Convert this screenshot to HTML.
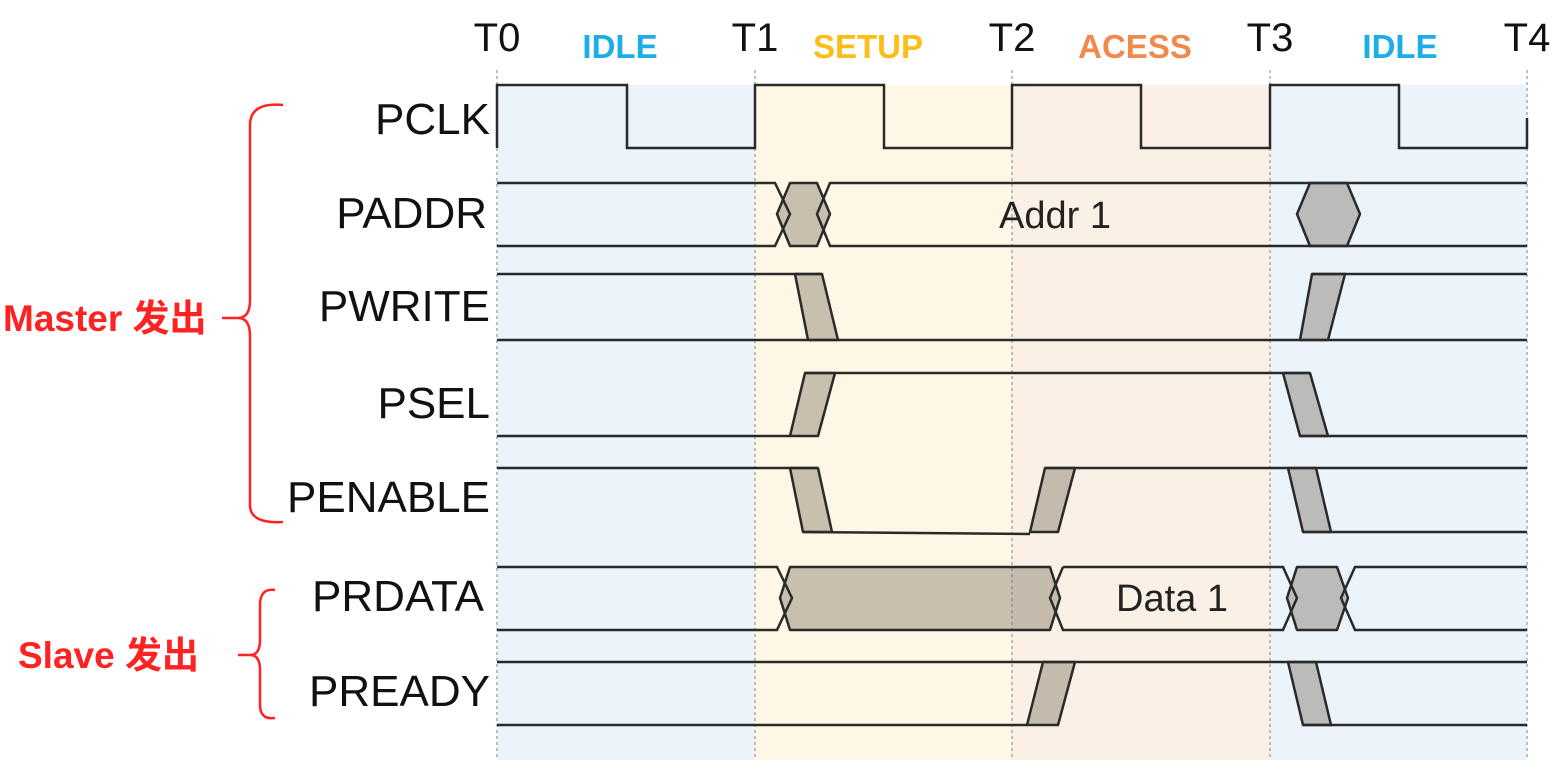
<!DOCTYPE html>
<html><head><meta charset="utf-8"><style>
body{margin:0;background:#fff;width:1555px;height:774px;overflow:hidden}
text{font-family:"Liberation Sans","Noto Sans CJK SC",sans-serif}
</style></head><body>
<svg width="1555" height="774" viewBox="0 0 1555 774" xmlns="http://www.w3.org/2000/svg">
<rect x="497" y="85" width="258" height="675" fill="#ebf3fb"/>
<rect x="755" y="85" width="257" height="675" fill="#fff7e5"/>
<rect x="1012" y="85" width="258" height="675" fill="#fbf0e6"/>
<rect x="1270" y="85" width="257" height="675" fill="#ebf3fb"/>
<g stroke="#aaa" stroke-width="1.5" stroke-dasharray="3,3">
<line x1="497" y1="70" x2="497" y2="760"/><line x1="755" y1="70" x2="755" y2="760"/><line x1="1012" y1="70" x2="1012" y2="760"/><line x1="1270" y1="70" x2="1270" y2="760"/><line x1="1527" y1="70" x2="1527" y2="760"/>
</g>
<g font-size="40" fill="#111" text-anchor="middle">
<text x="497" y="51">T0</text><text x="755" y="51">T1</text><text x="1012" y="51">T2</text><text x="1270" y="51">T3</text><text x="1527" y="51">T4</text>
</g>
<g font-size="33" font-weight="bold" text-anchor="middle">
<text x="620" y="58" fill="#1eaee6">IDLE</text>
<text x="868" y="58" fill="#fdbd18">SETUP</text>
<text x="1135" y="58" fill="#f08a4b">ACESS</text>
<text x="1400" y="58" fill="#1eaee6">IDLE</text>
</g>
<g font-size="44" fill="#111" text-anchor="end">
<text x="490" y="134">PCLK</text><text x="487" y="228">PADDR</text><text x="490" y="321">PWRITE</text><text x="490" y="418">PSEL</text><text x="490" y="512">PENABLE</text><text x="484" y="611">PRDATA</text><text x="490" y="706">PREADY</text>
</g>
<g fill="none" stroke="#2a2a2a" stroke-width="2.5">
<polyline points="497,148 497,85 627,85 627,148 755,148 755,85 884,85 884,148 1012,148 1012,85 1141,85 1141,148 1270,148 1270,85 1399,85 1399,148 1527,148 1527,118"/>
</g>
<g fill="rgba(110,100,80,0.38)" stroke="#2a2a2a" stroke-width="2.5" stroke-linejoin="round">
<polygon points="790,183 817,183 830,214 817,246 790,246 777,214"/>
<polygon points="1310,183 1347,183 1360,214 1347,246 1310,246 1297,214"/>
<polygon points="795,274 822,274 838,340 808,340"/>
<polygon points="1312,274 1345,274 1328,340 1300,340"/>
<polygon points="790,436 818,436 835,373 805,373"/>
<polygon points="1283,373 1310,373 1328,436 1300,436"/>
<polygon points="790,468 818,468 832,532 803,532"/>
<polygon points="1030,532 1058,532 1075,468 1045,468"/>
<polygon points="1288,468 1316,468 1331,532 1303,532"/>
<polygon points="790,567 1050,567 1060,598 1050,630 790,630 780,598"/>
<polygon points="1297,567 1337,567 1348,598 1337,630 1297,630 1287,598"/>
<polygon points="1027,725 1058,725 1075,662 1043,662"/>
<polygon points="1288,662 1316,662 1331,725 1303,725"/>
</g>
<g fill="none" stroke="#2a2a2a" stroke-width="2.5">
<polyline points="497,183 775,183 790,214 775,246 497,246"/>
<polyline points="1527,183 830,183 817,214 830,246 1527,246"/>
<polyline points="497,274 822,274"/><line x1="1312" y1="274" x2="1527" y2="274"/>
<line x1="497" y1="340" x2="1527" y2="340"/>
<line x1="497" y1="436" x2="790" y2="436"/><line x1="805" y1="373" x2="1310" y2="373"/><line x1="1300" y1="436" x2="1527" y2="436"/>
<line x1="497" y1="468" x2="818" y2="468"/><polyline points="803,532 1030,534"/><line x1="1045" y1="468" x2="1527" y2="468"/><line x1="1303" y1="532" x2="1527" y2="532"/>
<polyline points="497,567 777,567 792,598 777,630 497,630"/>
<polyline points="1527,567 1355,567 1341,598 1355,630 1527,630"/>
<polyline points="1063,567 1283,567 1297,598 1283,630 1063,630 1050,598 1063,567"/>
<line x1="497" y1="662" x2="1527" y2="662"/><line x1="497" y1="725" x2="1027" y2="725"/><line x1="1303" y1="725" x2="1527" y2="725"/>
</g>
<text x="1055" y="228" font-size="38" fill="#222" text-anchor="middle">Addr 1</text>
<text x="1172" y="611" font-size="38" fill="#222" text-anchor="middle">Data 1</text>
<g fill="none" stroke="#f22" stroke-width="2.5">
<path d="M283,105 Q250,102 250,125 L250,300 Q250,318 238,318 L222,318 M238,318 Q250,318 250,336 L250,505 Q250,524 283,522"/>
<path d="M275,590 Q260,588 260,605 L260,640 Q260,655 250,655 L238,655 M250,655 Q260,655 260,670 L260,705 Q260,720 275,718"/>
</g>
<g fill="#f22" font-weight="bold" font-size="37">
<text x="3" y="331">Master 发出</text>
<text x="18" y="668">Slave 发出</text>
</g>
</svg>
</body></html>
